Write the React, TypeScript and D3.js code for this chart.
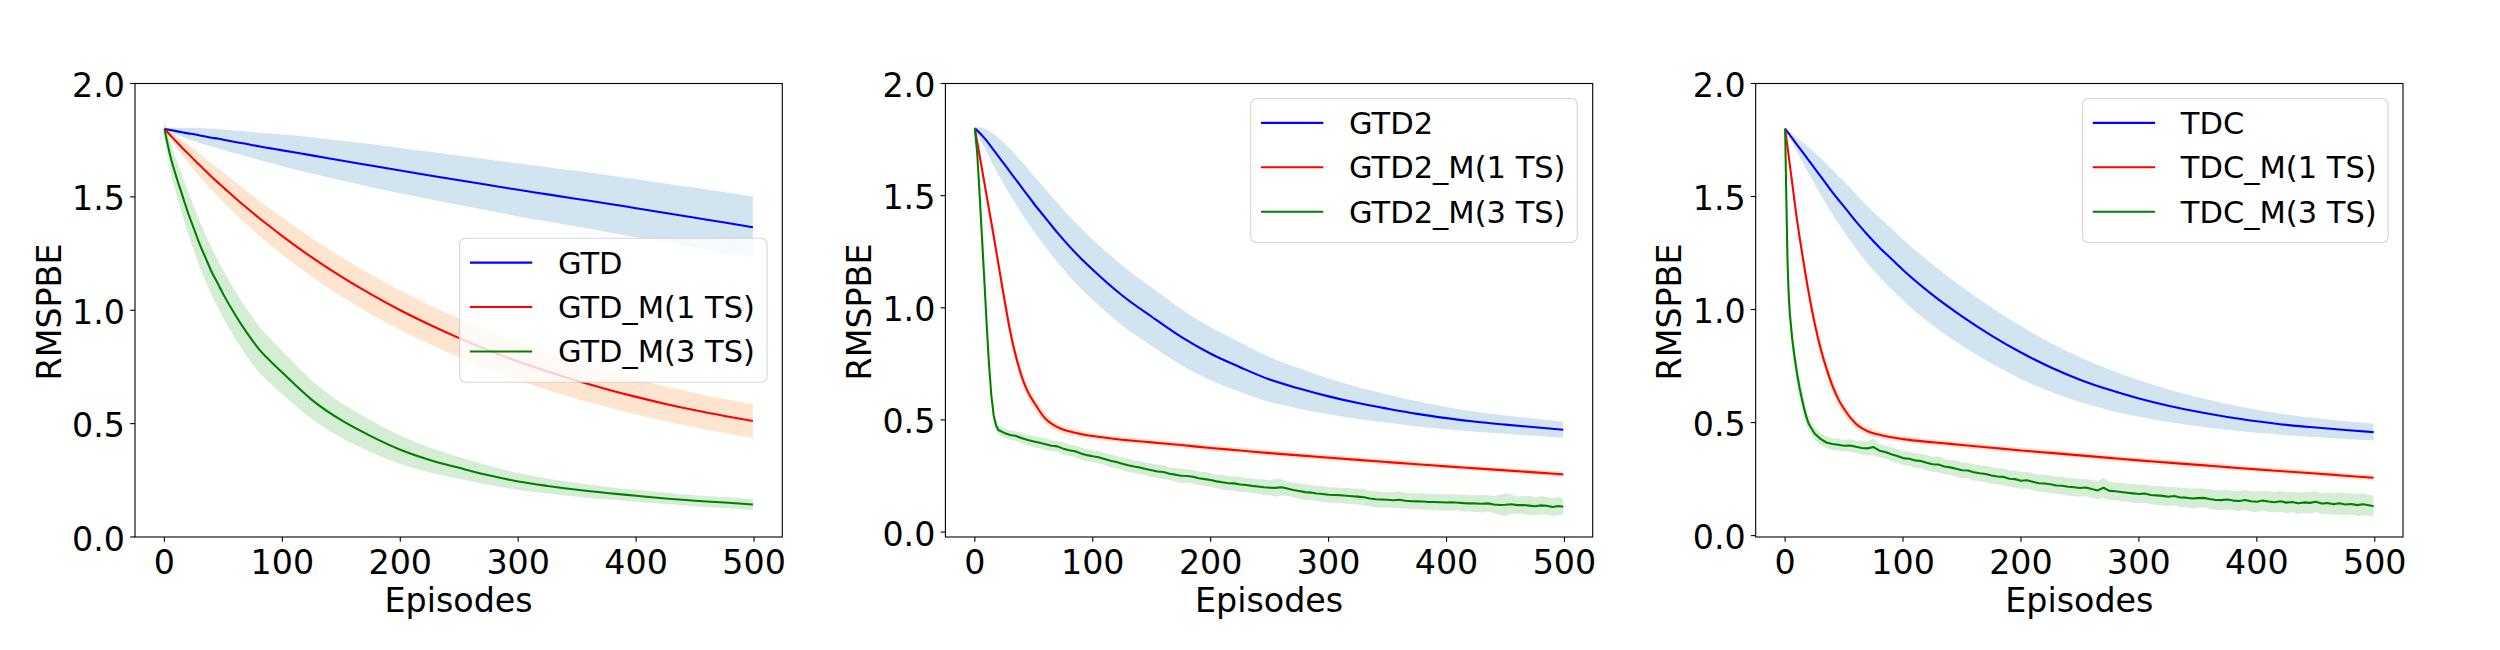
import * as d3 from "d3";

// episodes sampled for the smooth curves
const EP_SMOOTH = [0, 5, 10, 15, 20, 25, 30, 35, 40, 45, 50, 60, 70, 80, 90, 100, 125, 150, 175, 200, 225, 250, 275, 300, 325, 350, 375, 400, 425, 450, 475, 499];

// panel 1 : GTD
const GTD_MEAN = [1.8, 1.795, 1.79, 1.785, 1.78, 1.776, 1.771, 1.766, 1.761, 1.757, 1.752, 1.742, 1.733, 1.723, 1.714, 1.705, 1.683, 1.66, 1.638, 1.616, 1.594, 1.573, 1.552, 1.531, 1.511, 1.491, 1.471, 1.45, 1.429, 1.408, 1.387, 1.366];
const GTD_SD = [0.005, 0.01, 0.015, 0.02, 0.025, 0.029, 0.033, 0.036, 0.039, 0.042, 0.045, 0.05, 0.055, 0.06, 0.065, 0.07, 0.08, 0.088, 0.095, 0.1, 0.105, 0.109, 0.113, 0.117, 0.12, 0.123, 0.126, 0.128, 0.13, 0.132, 0.134, 0.136];
const GTD_M1_MEAN = [1.8, 1.772, 1.744, 1.717, 1.691, 1.665, 1.639, 1.614, 1.589, 1.565, 1.542, 1.495, 1.451, 1.408, 1.367, 1.327, 1.233, 1.148, 1.071, 1.0, 0.936, 0.877, 0.823, 0.774, 0.73, 0.689, 0.652, 0.618, 0.587, 0.559, 0.534, 0.512];
const GTD_M1_SD = [0.003, 0.015, 0.025, 0.033, 0.04, 0.046, 0.051, 0.055, 0.059, 0.062, 0.065, 0.07, 0.074, 0.077, 0.08, 0.082, 0.085, 0.087, 0.087, 0.087, 0.086, 0.085, 0.084, 0.083, 0.082, 0.08, 0.079, 0.078, 0.077, 0.076, 0.075, 0.075];
const GTD_M3_MEAN = [1.8, 1.68, 1.59, 1.51, 1.43, 1.36, 1.29, 1.23, 1.17, 1.12, 1.07, 0.98, 0.9, 0.83, 0.775, 0.725, 0.605, 0.515, 0.445, 0.385, 0.34, 0.305, 0.272, 0.245, 0.225, 0.208, 0.194, 0.182, 0.17, 0.16, 0.152, 0.143];
const GTD_M3_SD = [0.04, 0.06, 0.075, 0.085, 0.092, 0.098, 0.1, 0.102, 0.104, 0.105, 0.105, 0.105, 0.104, 0.102, 0.099, 0.095, 0.085, 0.077, 0.07, 0.063, 0.055, 0.048, 0.042, 0.037, 0.033, 0.03, 0.028, 0.026, 0.025, 0.024, 0.024, 0.024];

// panel 2 : GTD2
const GTD2_MEAN = [1.8, 1.775, 1.745, 1.71, 1.675, 1.64, 1.605, 1.57, 1.535, 1.5, 1.465, 1.4, 1.335, 1.275, 1.22, 1.17, 1.055, 0.96, 0.87, 0.795, 0.735, 0.68, 0.64, 0.605, 0.575, 0.55, 0.527, 0.508, 0.492, 0.479, 0.467, 0.456];
const GTD2_SD = [0.005, 0.03, 0.05, 0.068, 0.082, 0.094, 0.103, 0.11, 0.116, 0.12, 0.124, 0.129, 0.132, 0.134, 0.135, 0.135, 0.134, 0.13, 0.125, 0.118, 0.11, 0.1, 0.09, 0.08, 0.071, 0.063, 0.056, 0.05, 0.045, 0.041, 0.038, 0.036];
const GTD2_M1_MEAN = [1.8, 1.65, 1.5, 1.35, 1.195, 1.04, 0.895, 0.78, 0.69, 0.625, 0.58, 0.505, 0.468, 0.449, 0.437, 0.428, 0.412, 0.4, 0.388, 0.375, 0.364, 0.352, 0.342, 0.332, 0.322, 0.312, 0.302, 0.293, 0.284, 0.275, 0.266, 0.257];
const GTD2_M1_SD = [0.002, 0.015, 0.025, 0.03, 0.033, 0.035, 0.035, 0.034, 0.032, 0.03, 0.027, 0.022, 0.018, 0.016, 0.015, 0.014, 0.013, 0.013, 0.013, 0.013, 0.013, 0.013, 0.013, 0.013, 0.013, 0.013, 0.013, 0.012, 0.012, 0.012, 0.012, 0.012];
const EP_GTD2_M3 = [0, 2, 4, 6, 8, 10, 12, 14, 16, 18, 20, ...d3.range(25, 500, 5), 499];
const GTD2_M3_MEAN = [
  1.8, 1.69, 1.51, 1.32, 1.13, 0.93, 0.75, 0.61, 0.52, 0.475, 0.455,
  0.442, 0.433, 0.428, 0.418, 0.41, 0.404, 0.398, 0.392, 0.385, 0.382, 0.372, 0.365, 0.36, 0.35, 0.343, 0.338,
  0.334, 0.326, 0.318, 0.312, 0.305, 0.298, 0.292, 0.288, 0.281, 0.276, 0.27, 0.268, 0.26, 0.256, 0.251, 0.25, 0.247, 0.24, 0.236, 0.232,
  0.226, 0.222, 0.218, 0.217, 0.212, 0.21, 0.206, 0.203, 0.2, 0.198, 0.197, 0.2, 0.194, 0.188, 0.183, 0.178, 0.176, 0.172, 0.17, 0.166,
  0.165, 0.164, 0.162, 0.16, 0.158, 0.155, 0.15, 0.146, 0.145, 0.144, 0.142, 0.144, 0.14, 0.138, 0.137, 0.136, 0.134, 0.134, 0.133, 0.132,
  0.133, 0.131, 0.129, 0.128, 0.127, 0.126, 0.128, 0.123, 0.121, 0.122, 0.124, 0.12, 0.121, 0.118, 0.115, 0.119, 0.117, 0.112, 0.116,
  0.113,
];
const GTD2_M3_SD = [
  0.02, 0.03, 0.04, 0.045, 0.045, 0.04, 0.035, 0.03, 0.025, 0.022, 0.02,
  0.02, 0.021, 0.022, 0.024, 0.023, 0.025, 0.024, 0.026, 0.025, 0.024, 0.027, 0.025, 0.026, 0.028, 0.026, 0.027,
  0.028, 0.026, 0.029, 0.027, 0.028, 0.03, 0.027, 0.029, 0.028, 0.03, 0.029, 0.031, 0.028, 0.03, 0.032, 0.029, 0.031, 0.03, 0.032, 0.031,
  0.03, 0.033, 0.031, 0.032, 0.034, 0.031, 0.033, 0.032, 0.035, 0.033, 0.04, 0.036, 0.032, 0.034, 0.033, 0.035, 0.034, 0.033, 0.036, 0.034,
  0.035, 0.033, 0.036, 0.034, 0.035, 0.037, 0.034, 0.036, 0.035, 0.034, 0.036, 0.038, 0.035, 0.036, 0.034, 0.037, 0.036, 0.035, 0.038, 0.036,
  0.037, 0.035, 0.038, 0.036, 0.037, 0.039, 0.036, 0.038, 0.045, 0.05, 0.042, 0.038, 0.04, 0.044, 0.039, 0.041, 0.038, 0.04, 0.039,
  0.037,
];

// panel 3 : TDC
const TDC_MEAN = [1.8, 1.765, 1.73, 1.695, 1.66, 1.625, 1.59, 1.555, 1.52, 1.487, 1.455, 1.39, 1.33, 1.275, 1.225, 1.175, 1.065, 0.97, 0.885, 0.81, 0.745, 0.69, 0.645, 0.607, 0.575, 0.548, 0.525, 0.506, 0.49, 0.478, 0.467, 0.458];
const TDC_SD = [0.003, 0.015, 0.03, 0.045, 0.058, 0.07, 0.08, 0.09, 0.098, 0.105, 0.111, 0.12, 0.127, 0.131, 0.134, 0.135, 0.134, 0.13, 0.124, 0.117, 0.108, 0.099, 0.09, 0.081, 0.072, 0.064, 0.057, 0.051, 0.046, 0.042, 0.039, 0.037];
const TDC_M1_MEAN = [1.8, 1.6, 1.4, 1.23, 1.075, 0.94, 0.83, 0.74, 0.665, 0.605, 0.56, 0.495, 0.462, 0.446, 0.435, 0.427, 0.413, 0.401, 0.389, 0.377, 0.366, 0.355, 0.344, 0.333, 0.323, 0.313, 0.303, 0.293, 0.284, 0.275, 0.265, 0.256];
const TDC_M1_SD = [0.002, 0.02, 0.03, 0.034, 0.036, 0.036, 0.035, 0.033, 0.031, 0.028, 0.025, 0.02, 0.017, 0.015, 0.014, 0.014, 0.013, 0.013, 0.013, 0.013, 0.013, 0.013, 0.013, 0.013, 0.013, 0.013, 0.013, 0.012, 0.012, 0.012, 0.012, 0.012];
const EP_TDC_M3 = [0, 1, 2, 3, 4, 6, 8, 10, 12, 14, 16, 18, 20, ...d3.range(25, 500, 5), 499];
const TDC_M3_MEAN = [
  1.8, 1.5, 1.22, 1.07, 0.98, 0.87, 0.79, 0.72, 0.66, 0.61, 0.565, 0.525, 0.495,
  0.452, 0.428, 0.412, 0.405, 0.402, 0.398, 0.399, 0.393, 0.388, 0.386, 0.392, 0.376, 0.37, 0.36, 0.352, 0.343,
  0.34, 0.333, 0.33, 0.322, 0.316, 0.315, 0.306, 0.302, 0.296, 0.289, 0.288, 0.28, 0.276, 0.273, 0.266, 0.262, 0.26, 0.252, 0.25, 0.243,
  0.245, 0.238, 0.232, 0.231, 0.227, 0.222, 0.221, 0.216, 0.214, 0.211, 0.213, 0.206, 0.2, 0.212, 0.198, 0.196, 0.193, 0.19, 0.187, 0.184,
  0.186, 0.18, 0.178, 0.176, 0.172, 0.175, 0.169, 0.168, 0.164, 0.166, 0.167, 0.162, 0.158, 0.157, 0.16, 0.155, 0.153, 0.158, 0.152, 0.15,
  0.155, 0.151, 0.148, 0.152, 0.146, 0.149, 0.143, 0.147, 0.145, 0.15, 0.142, 0.144, 0.139, 0.143, 0.138, 0.14, 0.135, 0.139, 0.134,
  0.13,
];
const TDC_M3_SD = [
  0.01, 0.03, 0.05, 0.06, 0.06, 0.055, 0.05, 0.047, 0.045, 0.042, 0.04, 0.036, 0.032,
  0.028, 0.026, 0.025, 0.026, 0.027, 0.025, 0.028, 0.027, 0.029, 0.03, 0.038, 0.03, 0.029, 0.031, 0.03, 0.032,
  0.031, 0.033, 0.032, 0.034, 0.033, 0.035, 0.034, 0.033, 0.036, 0.035, 0.034, 0.036, 0.035, 0.037, 0.036, 0.035, 0.037, 0.036, 0.038, 0.037,
  0.036, 0.038, 0.037, 0.039, 0.038, 0.037, 0.039, 0.038, 0.04, 0.039, 0.038, 0.04, 0.039, 0.045, 0.04, 0.039, 0.041, 0.04, 0.042, 0.041,
  0.04, 0.042, 0.041, 0.043, 0.042, 0.041, 0.043, 0.042, 0.044, 0.043, 0.042, 0.044, 0.043, 0.045, 0.044, 0.043, 0.045, 0.044, 0.046, 0.045,
  0.044, 0.046, 0.045, 0.047, 0.046, 0.045, 0.047, 0.046, 0.048, 0.047, 0.046, 0.048, 0.047, 0.049, 0.048, 0.047, 0.049, 0.048, 0.047,
  0.046,
];

const X_TICKS = [0, 100, 200, 300, 400, 500];
const Y_TICKS = [0, 0.5, 1, 1.5, 2];

const FONT = "DejaVu Sans";
const TOP = 83.5;
const BOTTOM = 537;
const PLOT_W = 647.3;
const LINE_COLORS = ["blue", "red", "green"];
const BAND_COLORS = ["#1f77b4", "#ff7f0e", "#2ca02c"];

type Series = { name: string; ep: number[]; mean: number[]; sd: number[]; smooth: boolean };
type PanelCfg = {
  left: number;
  yDomain: [number, number];
  legend: { x: number; y: number; w: number };
  series: Series[];
};

const PANELS: PanelCfg[] = [
  {
    left: 135,
    yDomain: [0, 2],
    legend: { x: 459.6, y: 238.25, w: 307.4 },
    series: [
      { name: "GTD", ep: EP_SMOOTH, mean: GTD_MEAN, sd: GTD_SD, smooth: true },
      { name: "GTD_M(1 TS)", ep: EP_SMOOTH, mean: GTD_M1_MEAN, sd: GTD_M1_SD, smooth: true },
      { name: "GTD_M(3 TS)", ep: EP_SMOOTH, mean: GTD_M3_MEAN, sd: GTD_M3_SD, smooth: true },
    ],
  },
  {
    left: 945.4,
    yDomain: [-0.022, 2],
    legend: { x: 1250.7, y: 98.5, w: 326.6 },
    series: [
      { name: "GTD2", ep: EP_SMOOTH, mean: GTD2_MEAN, sd: GTD2_SD, smooth: true },
      { name: "GTD2_M(1 TS)", ep: EP_SMOOTH, mean: GTD2_M1_MEAN, sd: GTD2_M1_SD, smooth: true },
      { name: "GTD2_M(3 TS)", ep: EP_GTD2_M3, mean: GTD2_M3_MEAN, sd: GTD2_M3_SD, smooth: false },
    ],
  },
  {
    left: 1755.7,
    yDomain: [-0.006, 2],
    legend: { x: 2082.5, y: 98.5, w: 305.6 },
    series: [
      { name: "TDC", ep: EP_SMOOTH, mean: TDC_MEAN, sd: TDC_SD, smooth: true },
      { name: "TDC_M(1 TS)", ep: EP_SMOOTH, mean: TDC_M1_MEAN, sd: TDC_M1_SD, smooth: true },
      { name: "TDC_M(3 TS)", ep: EP_TDC_M3, mean: TDC_M3_MEAN, sd: TDC_M3_SD, smooth: false },
    ],
  },
];

const fmtY = d3.format(".1f");

function Panel({ cfg, idx }: { cfg: PanelCfg; idx: number }) {
  const x = d3.scaleLinear().domain([-24.95, 523.95]).range([cfg.left, cfg.left + PLOT_W]);
  const y = d3.scaleLinear().domain(cfg.yDomain).range([BOTTOM, TOP]);
  const clipId = `clip-${idx}`;

  const band = (s: Series) =>
    d3
      .area<number>()
      .x((_, i) => x(s.ep[i]))
      .y0((d, i) => y(d - s.sd[i]))
      .y1((d, i) => y(d + s.sd[i]))
      .curve(s.smooth ? d3.curveMonotoneX : d3.curveLinear)(s.mean) ?? "";
  const line = (s: Series) =>
    d3
      .line<number>()
      .x((_, i) => x(s.ep[i]))
      .y((d) => y(d))
      .curve(s.smooth ? d3.curveMonotoneX : d3.curveLinear)(s.mean) ?? "";

  const right = cfg.left + PLOT_W;
  const lg = cfg.legend;

  return (
    <g>
      <defs>
        <clipPath id={clipId}>
          <rect x={cfg.left} y={TOP} width={PLOT_W} height={BOTTOM - TOP} />
        </clipPath>
      </defs>
      <g clipPath={`url(#${clipId})`}>
        {cfg.series.map((s, i) => (
          <path key={`b${i}`} d={band(s)} fill={BAND_COLORS[i]} fillOpacity={0.2} stroke="none" />
        ))}
        {cfg.series.map((s, i) => (
          <path key={`l${i}`} d={line(s)} fill="none" stroke={LINE_COLORS[i]} strokeWidth={2.08} strokeLinejoin="round" />
        ))}
      </g>
      <rect x={cfg.left} y={TOP} width={PLOT_W} height={BOTTOM - TOP} fill="none" stroke="black" strokeWidth={1.1} />
      {X_TICKS.map((t) => (
        <g key={`x${t}`}>
          <line x1={x(t)} x2={x(t)} y1={BOTTOM} y2={BOTTOM + 4.86} stroke="black" strokeWidth={1.1} />
          <text x={x(t)} y={573.5} textAnchor="middle" fontFamily={FONT} fontSize={33.3}>
            {t}
          </text>
        </g>
      ))}
      {Y_TICKS.map((t) => (
        <g key={`y${t}`}>
          <line x1={cfg.left - 4.86} x2={cfg.left} y1={y(t)} y2={y(t)} stroke="black" strokeWidth={1.1} />
          <text x={cfg.left - 10} y={y(t) + 13.5} textAnchor="end" fontFamily={FONT} fontSize={33.3}>
            {fmtY(t)}
          </text>
        </g>
      ))}
      <text x={(cfg.left + right) / 2} y={612} textAnchor="middle" fontFamily={FONT} fontSize={33.3}>
        Episodes
      </text>
      <text
        transform={`translate(${cfg.left - 74.3},${312}) rotate(-90)`}
        textAnchor="middle"
        fontFamily={FONT}
        fontSize={33.3}
      >
        RMSPBE
      </text>
      <g>
        <rect
          x={lg.x}
          y={lg.y}
          width={lg.w}
          height={144}
          rx={6}
          fill="white"
          fillOpacity={0.8}
          stroke="#cccccc"
          strokeOpacity={0.8}
          strokeWidth={1.1}
        />
        {cfg.series.map((s, i) => {
          const ry = lg.y + 24.4 + i * 44.4;
          return (
            <g key={`lg${i}`}>
              <line x1={lg.x + 10.3} x2={lg.x + 72.6} y1={ry} y2={ry} stroke={LINE_COLORS[i]} strokeWidth={2.08} />
              <text x={lg.x + 98.3} y={ry + 11} fontFamily={FONT} fontSize={30.5}>
                {s.name}
              </text>
            </g>
          );
        })}
      </g>
    </g>
  );
}

export default function App() {
  return (
    <svg
      width={2500}
      height={650}
      style={{ position: "absolute", left: 0, top: 0, background: "white" }}
    >
      <rect x={0} y={0} width={2500} height={650} fill="white" />
      {PANELS.map((p, i) => (
        <Panel key={i} cfg={p} idx={i} />
      ))}
    </svg>
  );
}
